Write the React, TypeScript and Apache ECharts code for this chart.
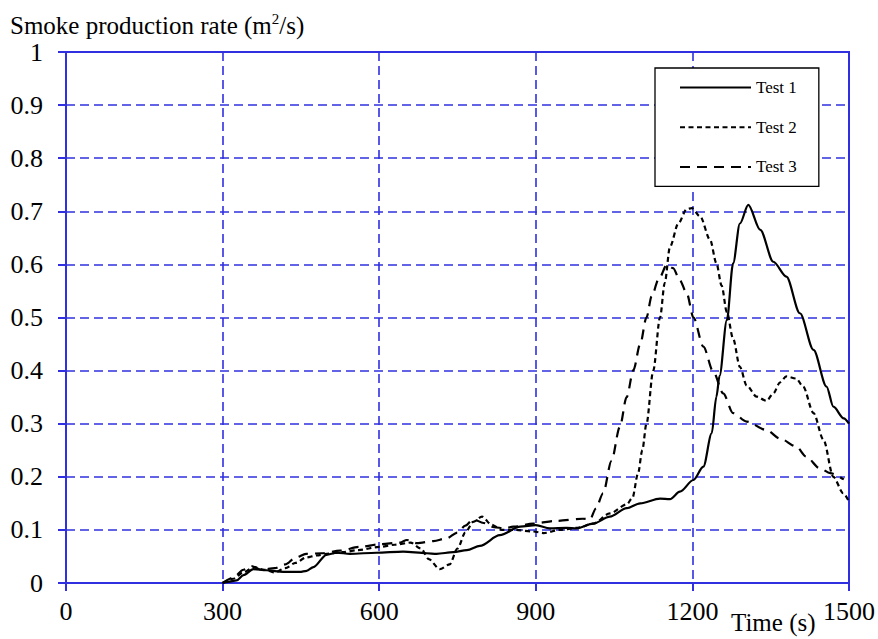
import React, { useEffect, useRef } from "react";
import * as echarts from "echarts";

const xTicks = [0, 300, 600, 900, 1200, 1500];
const seriesNames = ["Test 1", "Test 2", "Test 3"];

const test1: [number, number][] = [
  [300, 0], [310, 0.002], [327, 0.005], [340, 0.015], [359, 0.026], [384, 0.024],
  [416, 0.021], [448, 0.021], [461, 0.023], [474, 0.03], [499, 0.053], [518, 0.057],
  [544, 0.055], [595, 0.057], [646, 0.059], [691, 0.056], [710, 0.055], [742, 0.058],
  [768, 0.062], [793, 0.07], [831, 0.09], [870, 0.106], [900, 0.109], [927, 0.103],
  [959, 0.104], [978, 0.103], [1010, 0.112], [1042, 0.125], [1074, 0.141], [1100, 0.15],
  [1138, 0.159], [1157, 0.158], [1176, 0.172], [1202, 0.194], [1221, 0.219], [1237, 0.282],
  [1246, 0.351], [1252, 0.39], [1266, 0.495], [1278, 0.602], [1291, 0.677], [1307, 0.712],
  [1330, 0.665], [1355, 0.605], [1380, 0.577], [1406, 0.508], [1432, 0.439], [1457, 0.37],
  [1470, 0.332], [1490, 0.31], [1500, 0.3],
];

const test2: [number, number][] = [
  [300, 0], [320, 0.008], [340, 0.02], [360, 0.03], [380, 0.025], [400, 0.02],
  [420, 0.028], [440, 0.038], [460, 0.048], [480, 0.052], [500, 0.055], [530, 0.058],
  [560, 0.062], [600, 0.068], [630, 0.072], [660, 0.076], [680, 0.065], [695, 0.045],
  [716, 0.026], [735, 0.035], [750, 0.065], [765, 0.095], [780, 0.115], [797, 0.125],
  [815, 0.11], [835, 0.1], [860, 0.1], [895, 0.097], [915, 0.094], [946, 0.1],
  [980, 0.104], [1010, 0.112], [1042, 0.131], [1074, 0.148], [1085, 0.16], [1096, 0.207],
  [1104, 0.25], [1112, 0.3], [1125, 0.4], [1138, 0.5], [1147, 0.565], [1157, 0.633],
  [1173, 0.677], [1189, 0.704], [1199, 0.706], [1215, 0.69], [1234, 0.646], [1246, 0.602],
  [1256, 0.56], [1266, 0.51], [1278, 0.46], [1291, 0.407], [1304, 0.372], [1323, 0.351],
  [1342, 0.343], [1355, 0.357], [1368, 0.378], [1380, 0.389], [1399, 0.385], [1412, 0.37],
  [1432, 0.32], [1451, 0.27], [1470, 0.2], [1489, 0.169], [1500, 0.153],
];

const test3: [number, number][] = [
  [300, 0], [320, 0.01], [340, 0.025], [355, 0.032], [375, 0.025], [400, 0.028],
  [420, 0.035], [440, 0.048], [460, 0.055], [490, 0.056], [525, 0.061], [563, 0.068],
  [601, 0.073], [640, 0.076], [653, 0.081], [672, 0.075], [704, 0.079], [729, 0.084],
  [750, 0.095], [765, 0.108], [780, 0.12], [800, 0.113], [820, 0.105], [840, 0.103],
  [857, 0.106], [895, 0.112], [940, 0.117], [990, 0.121], [1004, 0.12], [1015, 0.14],
  [1029, 0.169], [1045, 0.23], [1061, 0.294], [1074, 0.35], [1087, 0.401], [1100, 0.45],
  [1112, 0.5], [1122, 0.54], [1135, 0.571], [1151, 0.599], [1163, 0.593], [1176, 0.57],
  [1189, 0.546], [1202, 0.5], [1221, 0.445], [1240, 0.398], [1259, 0.357], [1278, 0.32],
  [1304, 0.304], [1342, 0.288], [1368, 0.272], [1399, 0.257], [1418, 0.238], [1444, 0.216],
  [1464, 0.207], [1490, 0.195],
];

const BLUE = "#3030e0";
const FONT = "Liberation Serif";

export default function App() {
  const ref = useRef<HTMLDivElement>(null);
  useEffect(() => {
    if (!ref.current) return;
    const chart = echarts.init(ref.current, undefined, { renderer: "svg" });
    const lineStyles = [
      { color: "#000", width: 2.2, type: "solid" as any },
      { color: "#000", width: 2.2, type: [5, 3.5] as any },
      { color: "#000", width: 2.2, type: [10, 7] as any },
    ];
    const datas = [test1, test2, test3];
    chart.setOption({
      animation: false,
      backgroundColor: "#fff",
      textStyle: { fontFamily: FONT },
      grid: {
        left: 66,
        right: 29,
        top: 52,
        bottom: 56,
        show: true,
        borderColor: BLUE,
        borderWidth: 2,
        backgroundColor: "transparent",
      },
      xAxis: {
        type: "value",
        min: 0,
        max: 1500,
        interval: 300,
        axisLine: { show: true, onZero: false, lineStyle: { color: BLUE, width: 2 } },
        axisTick: { show: true, inside: false, length: 8, lineStyle: { color: BLUE, width: 2 } },
        axisLabel: {
          color: "#000",
          fontFamily: FONT,
          fontSize: 26,
          margin: 15,
          formatter: (v: number) => (xTicks.includes(v) ? String(v) : ""),
        },
        splitLine: { show: true, lineStyle: { color: BLUE, width: 1.6, type: [9, 5] } },
      },
      yAxis: {
        type: "value",
        min: 0,
        max: 1,
        interval: 0.1,
        axisLine: { show: true, lineStyle: { color: BLUE, width: 2 } },
        axisTick: { show: true, inside: false, length: 8, lineStyle: { color: BLUE, width: 2 } },
        axisLabel: {
          color: "#000",
          fontFamily: FONT,
          fontSize: 26,
          margin: 23,
          formatter: (v: number) => String(Math.round(v * 10) / 10),
        },
        splitLine: { show: true, lineStyle: { color: BLUE, width: 1.6, type: [9, 5] } },
      },
      legend: {
        show: true,
        orient: "vertical",
        left: 655,
        top: 68,
        padding: [11, 22, 11, 24],
        itemWidth: 71,
        itemHeight: 14,
        itemGap: 22.7,
        backgroundColor: "#fff",
        borderColor: "#000",
        borderWidth: 1.3,
        borderRadius: 0,
        itemStyle: { opacity: 0 },
        textStyle: { color: "#000", fontFamily: FONT, fontSize: 17 },
        data: seriesNames,
      },
      graphic: [
        {
          type: "text",
          left: 10,
          top: 11,
          style: {
            text: "{n|Smoke production rate (m}{s|2}{n|/s)}",
            fill: "#000",
            rich: {
              n: { fontFamily: FONT, fontSize: 25, lineHeight: 28, fill: "#000" },
              s: { fontFamily: FONT, fontSize: 15, lineHeight: 28, verticalAlign: "top", fill: "#000" },
            },
          },
        },
        {
          type: "text",
          left: 731,
          top: 610,
          style: {
            text: "Time (s)",
            fill: "#000",
            fontFamily: FONT,
            fontSize: 25,
          },
        },
      ],
      series: seriesNames.map((name, i) => ({
        name,
        type: "line",
        data: datas[i],
        symbol: "none",
        showSymbol: false,
        smooth: 0.3,
        smoothMonotone: "x",
        lineStyle: lineStyles[i],
        z: 5,
      })),
    });
    return () => chart.dispose();
  }, []);
  return (
    <div
      ref={ref}
      style={{ position: "absolute", left: 0, top: 0, width: 878, height: 639 }}
    />
  );
}
